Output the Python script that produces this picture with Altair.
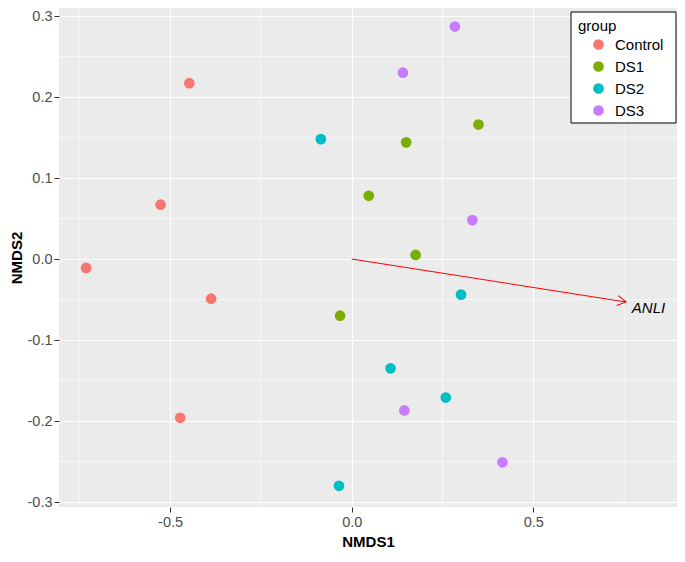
import math
import altair as alt
import pandas as pd

# ---------------- data ----------------
groups = ["Control", "DS1", "DS2", "DS3"]
group_colors = ["#F8766D", "#7CAE00", "#00BFC4", "#C77CFF"]

control_nmds1 = [-0.731, -0.447, -0.526, -0.387, -0.472]
control_nmds2 = [-0.011, 0.217, 0.067, -0.049, -0.196]
ds1_nmds1 = [0.349, 0.150, 0.047, 0.176, -0.032]
ds1_nmds2 = [0.166, 0.144, 0.078, 0.005, -0.070]
ds2_nmds1 = [-0.085, 0.301, 0.107, 0.259, -0.035]
ds2_nmds2 = [0.148, -0.044, -0.135, -0.171, -0.280]
ds3_nmds1 = [0.284, 0.141, 0.332, 0.145, 0.415]
ds3_nmds2 = [0.287, 0.230, 0.048, -0.187, -0.251]

arrow_label = "ANLI"
arrow_end = [0.755, -0.053]
arrow_label_pos = [0.771, -0.0604]

x_ticks = [-0.5, 0.0, 0.5]
y_ticks = [-0.3, -0.2, -0.1, 0.0, 0.1, 0.2, 0.3]
x_minor = [-0.75, -0.25, 0.25, 0.75]
y_minor = [-0.25, -0.15, -0.05, 0.05, 0.15, 0.25]

x_domain = [-0.8057, 0.8954]
y_domain = [-0.30617, 0.30988]

# ---------------- layout ----------------
W, H = 618, 499
FONT = "Liberation Sans"

rows = []
for g, xs_, ys_ in [
    ("Control", control_nmds1, control_nmds2),
    ("DS1", ds1_nmds1, ds1_nmds2),
    ("DS2", ds2_nmds1, ds2_nmds2),
    ("DS3", ds3_nmds1, ds3_nmds2),
]:
    for a, b in zip(xs_, ys_):
        rows.append({"NMDS1": a, "NMDS2": b, "group": g})
points_df = pd.DataFrame(rows)

arrow_df = pd.DataFrame([{"x0": 0.0, "y0": 0.0, "x1": arrow_end[0], "y1": arrow_end[1],
                          "lx": arrow_label_pos[0], "ly": arrow_label_pos[1], "label": arrow_label}])

# screen angle of the arrow (clockwise degrees) for the arrow head
px_x = W / (x_domain[1] - x_domain[0])
px_y = H / (y_domain[1] - y_domain[0])
head_angle = math.degrees(math.atan2(-arrow_end[1] * px_y, arrow_end[0] * px_x)) % 360

xs = alt.Scale(domain=x_domain, nice=False, zero=False)
ys = alt.Scale(domain=y_domain, nice=False, zero=False)

minus_fix = "datum.value < 0 ? '-' + format(-datum.value, '.1f') : format(datum.value, '.1f')"

x_axis = alt.Axis(values=x_ticks, labelExpr=minus_fix, title="NMDS1",
                  titlePadding=6, labelPadding=3)
y_axis = alt.Axis(values=y_ticks, labelExpr=minus_fix, title="NMDS2",
                  titlePadding=3, labelPadding=2)

minor_x = alt.Chart(pd.DataFrame({"v": x_minor})).mark_rule(
    color="white", strokeWidth=0.55).encode(x=alt.X("v:Q", scale=xs, axis=x_axis))
minor_y = alt.Chart(pd.DataFrame({"v": y_minor})).mark_rule(
    color="white", strokeWidth=0.55).encode(y=alt.Y("v:Q", scale=ys, axis=y_axis))

LEG_X, LEG_Y, LEG_W, LEG_H = 512, 4, 105, 111

pts = alt.Chart(points_df).mark_circle(size=115, opacity=1).encode(
    x=alt.X("NMDS1:Q", scale=xs, axis=x_axis),
    y=alt.Y("NMDS2:Q", scale=ys, axis=y_axis),
    color=alt.Color(
        "group:N",
        scale=alt.Scale(domain=groups, range=group_colors),
        legend=alt.Legend(
            title="group", orient="none", legendX=LEG_X, legendY=LEG_Y,
            padding=7, titleFont=FONT, titleFontSize=15, titleFontWeight="normal",
            titleColor="black", titlePadding=3, labelFont=FONT, labelFontSize=15,
            labelColor="black", symbolType="circle", symbolSize=115,
            symbolStrokeWidth=0, symbolOpacity=1, rowPadding=6,
            symbolOffset=13, labelOffset=9,
        ),
    ),
)

legend_box = alt.Chart(alt.Data(values=[{"k": 1}])).mark_rect(
    fill="white", stroke="black", strokeWidth=1
).encode(x=alt.value(LEG_X), x2=alt.value(LEG_X + LEG_W),
         y=alt.value(LEG_Y), y2=alt.value(LEG_Y + LEG_H))

arrow_line = alt.Chart(arrow_df).mark_rule(color="#FF0000", strokeWidth=1.1).encode(
    x=alt.X("x0:Q", scale=xs), y=alt.Y("y0:Q", scale=ys),
    x2="x1:Q", y2="y1:Q")

arrow_head = alt.Chart(arrow_df).mark_point(
    shape="M-1,-0.577L0,0L-1,0.577", filled=False, size=300,
    strokeWidth=1.1, color="#FF0000", opacity=1, angle=head_angle
).encode(x=alt.X("x1:Q", scale=xs), y=alt.Y("y1:Q", scale=ys))

arrow_text = alt.Chart(arrow_df).mark_text(
    align="left", baseline="middle", fontStyle="italic", fontSize=15,
    font=FONT, color="black"
).encode(x=alt.X("lx:Q", scale=xs), y=alt.Y("ly:Q", scale=ys), text="label:N")

chart = alt.layer(
    minor_x, minor_y, pts, arrow_line, arrow_head, arrow_text, legend_box
).properties(
    width=W, height=H,
    autosize=alt.AutoSizeParams(type="none"),
    padding={"left": 51, "top": 0, "right": 0, "bottom": 42},
).configure_view(
    fill="#EBEBEB", strokeWidth=0
).configure_axis(
    domain=False, grid=True, gridColor="white", gridWidth=1.2,
    tickColor="#333333", tickSize=5, tickWidth=1,
    labelColor="#4D4D4D", labelFont=FONT, labelFontSize=14.5,
    titleFont=FONT, titleFontSize=15, titleFontWeight="bold", titleColor="black",
)

chart.save("out.html", embed_options={"renderer": "svg", "actions": False})
